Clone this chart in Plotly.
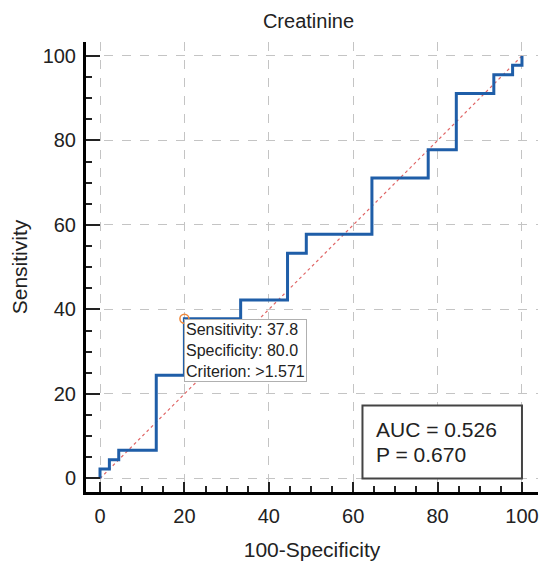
import plotly.graph_objects as go

# ROC step corners (100-Specificity, Sensitivity), drawn with vertical-then-horizontal steps
fpr = [0, 2.22, 4.44, 13.33, 20.0, 33.33, 44.44, 48.89, 64.44, 77.78, 84.44, 93.33, 97.78, 100, 100]
tpr = [0, 2.22, 4.44, 6.67, 24.44, 37.78, 42.22, 53.33, 57.78, 71.11, 77.78, 91.11, 95.56, 97.78, 100]

diag_x = [0, 100]
diag_y = [0, 100]

crit_x = [20.0]
crit_y = [37.8]
crit_text = "Sensitivity: 37.8<br>Specificity: 80.0<br>Criterion: >1.571"
auc_lines = ["AUC = 0.526", "P = 0.670"]
tick_vals = [0, 20, 40, 60, 80, 100]

FONT = "Liberation Sans, Arial, sans-serif"
TXT = "#222222"

fig = go.Figure()
fig.add_trace(go.Scatter(x=diag_x, y=diag_y, mode="lines",
                         line=dict(color="#e06666", width=1.2, dash="dot"),
                         hoverinfo="skip", showlegend=False))
fig.add_trace(go.Scatter(x=fpr, y=tpr, mode="lines", line_shape="vh",
                         line=dict(color="#1f5ea8", width=3),
                         showlegend=False))
fig.add_trace(go.Scatter(x=crit_x, y=crit_y, mode="markers",
                         marker=dict(symbol="circle-open", size=9, color="#f0883a",
                                     line=dict(width=1.5)),
                         showlegend=False))

fig.add_annotation(x=crit_x[0], y=crit_y[0], xref="x", yref="y", text=crit_text,
                   showarrow=False, xanchor="left", yanchor="top", align="left",
                   font=dict(family=FONT, size=16, color=TXT),
                   bgcolor="white", bordercolor="#b0b0b0", borderwidth=1, borderpad=1)

fig.add_shape(type="rect", x0=62.2, x1=100, y0=0, y1=17.3, xref="x", yref="y",
              line=dict(color="#444", width=2), fillcolor="white", layer="above")
for txt, yy in zip(auc_lines, [11.7, 5.6]):
    fig.add_annotation(x=65.0, y=yy, xref="x", yref="y", text=txt, showarrow=False,
                       xanchor="left", yanchor="middle", align="left",
                       font=dict(family=FONT, size=21, color=TXT))

axis_common = dict(
    showline=True, linecolor="black", linewidth=3, mirror=False,
    showgrid=True, gridcolor="#c4c4c4", gridwidth=1, griddash="dash",
    zeroline=False, tickmode="array", tickvals=tick_vals,
    ticks="inside", tickcolor="#222", tickwidth=2, automargin=False,
    tickfont=dict(family=FONT, size=20, color=TXT),
    minor=dict(ticks="inside", dtick=5, tick0=0, ticklen=6, tickwidth=1.5,
               tickcolor="#222", showgrid=False),
)

fig.update_layout(
    width=550, height=562,
    margin=dict(l=78, r=20, t=34, b=78),
    paper_bgcolor="white", plot_bgcolor="white",
    title=dict(text="Creatinine", x=0.5464, xanchor="center", y=0.977, yanchor="middle",
               font=dict(family=FONT, size=20, color=TXT)),
    xaxis=dict(range=[-3.32, 103.8], ticklen=10, ticklabelstandoff=4,
               title=dict(text="100-Specificity", font=dict(family=FONT, size=21, color=TXT), standoff=17),
               **axis_common),
    yaxis=dict(range=[-3.2, 103.3], ticklen=14, ticklabelstandoff=3,
               title=dict(text="Sensitivity", font=dict(family=FONT, size=21, color=TXT), standoff=12),
               **axis_common),
)

fig.write_html("out.html")
